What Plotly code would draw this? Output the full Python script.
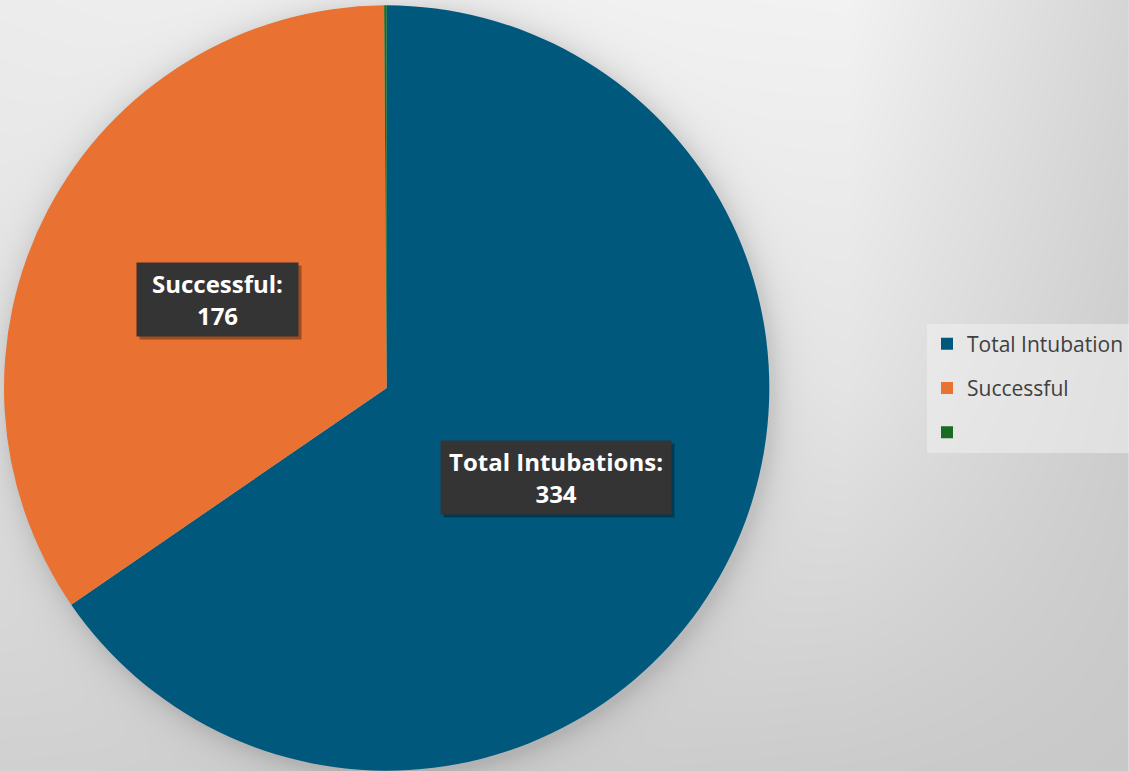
import numpy as np
import plotly.graph_objects as go

# Slice data (clockwise from 12 o'clock)
categories = ["Total Intubations", "Successful", ""]
legend_names = ["Total Intubation", "Successful", " "]
values = [334, 176, 0.53]
colors = ["#01587D", "#E97132", "#196B24"]

W, H = 1129, 771
cx, cy, R = 387, 388, 383  # pie centre / radius in pixels
label_box = {"Total Intubations": (214, 57), "Successful": (145, 57)}  # text area, px

# ---- soft grey backdrop with a halo around the pie ----
xs = np.linspace(0, W, 227)
ys = np.linspace(0, H, 156)
ctrl_x = [0, 400, 850, 1129]
ctrl_y = [0, 385, 771]
ctrl = np.array([[236, 240, 242, 213],
                 [226, 230, 228, 205],
                 [208, 206, 203, 200]], dtype=float)
rows = np.array([np.interp(xs, ctrl_x, r) for r in ctrl])
bg = np.column_stack([np.interp(ys, ctrl_y, rows[:, j]) for j in range(len(xs))])
X, Y = np.meshgrid(xs, ys)
d = np.hypot(X - cx - 3, Y - cy - 3) - R
bg -= 28 * np.exp(-np.clip(d, 0, None) / 14)

fig = go.Figure()
fig.add_trace(go.Heatmap(
    x=xs, y=ys, z=bg, zmin=0, zmax=255, zsmooth="best",
    colorscale=[[0, "black"], [1, "white"]], showscale=False,
    hoverinfo="skip", showlegend=False,
))

dom_x = [(cx - R) / W, (cx + R) / W]
dom_y = [(H - cy - R) / H, (H - cy + R) / H]
fig.add_trace(go.Pie(
    labels=categories, values=values, sort=False, direction="clockwise",
    rotation=0, marker=dict(colors=colors, line=dict(width=0)),
    textinfo="none", hoverinfo="label+value", domain=dict(x=dom_x, y=dom_y),
    showlegend=False,
))

# Legend entries: one square swatch per slice
for i, (name, col) in enumerate(zip(legend_names, colors)):
    fig.add_trace(go.Scatter(
        x=[None], y=[None], mode="markers", name=name,
        marker=dict(symbol="square", size=12, color=col),
        legendgroup=f"g{i}", showlegend=True, hoverinfo="skip",
    ))

# ---- data labels at half radius along each slice's mid-angle ----
total = sum(values)
pcx, pcy = cx / W, (H - cy) / H
annotations = []
cum = 0.0
for name, v in zip(categories, values):
    mid = (cum + v / 2) / total
    cum += v
    if not name:
        continue
    th = 2 * np.pi * mid
    ax = pcx + 0.5 * R * np.sin(th) / W
    ay = pcy + 0.5 * R * np.cos(th) / H
    bw, bh = label_box[name]
    common = dict(x=ax, y=ay, xref="paper", yref="paper", showarrow=False,
                  xanchor="center", yanchor="middle", width=bw, height=bh,
                  borderpad=8)
    # drop shadow
    annotations.append(dict(common, text=" ", bgcolor="rgba(0,0,0,0.32)",
                            xshift=3, yshift=-3))
    annotations.append(dict(
        common, text=f"<b>{name}:<br>{v:g}</b>",
        font=dict(family="Open Sans", size=24, color="white"),
        bgcolor="#343434",
    ))

fig.update_layout(
    width=W, height=H, margin=dict(l=0, r=0, t=0, b=0),
    paper_bgcolor="#dcdcdc", plot_bgcolor="#dcdcdc",
    xaxis=dict(range=[0, W], visible=False, fixedrange=True),
    yaxis=dict(range=[H, 0], visible=False, fixedrange=True),
    annotations=annotations,
    legend=dict(
        x=928 / W, xanchor="left", y=(H - 388) / H, yanchor="middle",
        bgcolor="rgba(240,240,240,0.55)", borderwidth=0,
        tracegroupgap=14, itemsizing="constant",
        font=dict(family="Open Sans", size=21, color="#404040"),
    ),
    showlegend=True,
)

fig.write_html("out.html")
